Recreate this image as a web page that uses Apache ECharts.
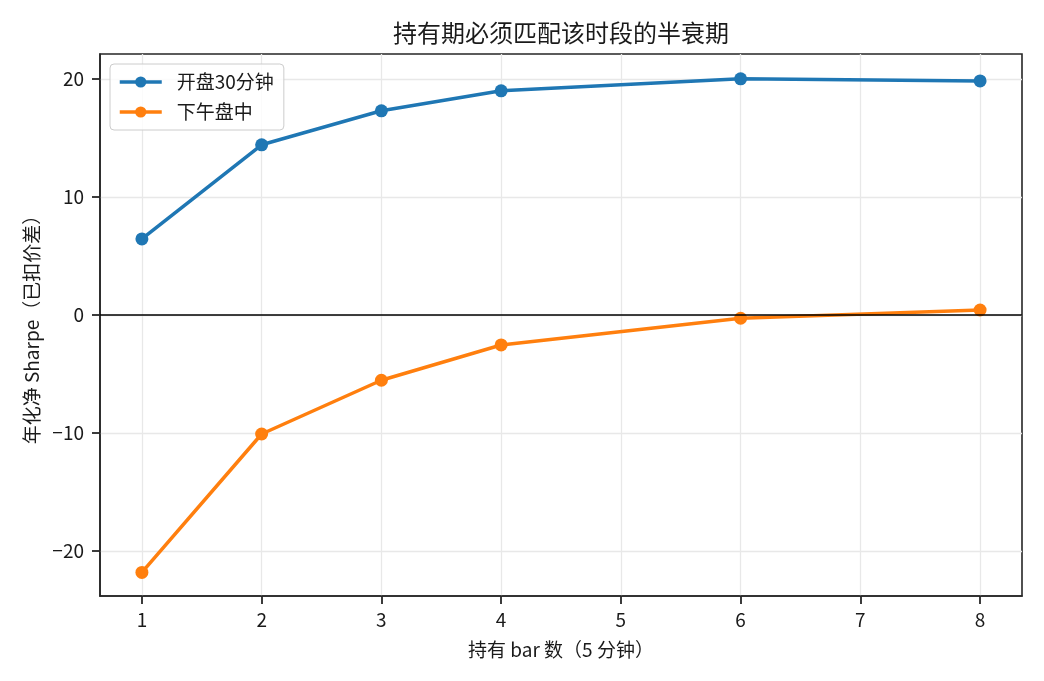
<!DOCTYPE html>
<html>
    <head>
        <meta charset="UTF-8">
        <title>持有期必须匹配该时段的半衰期</title>
        <style type="text/css">
            body,html{ margin: 0; width: 100vw; height: 100vh; overflow: hidden; background: #fff;}
            .chart-box{ width: 1044px; height: 681px;}
        </style>
    </head>
    <body>
        <div class="chart-box" id="chart"></div>

        <script src="https://cdn.jsdelivr.net/npm/echarts@6.0.0/dist/echarts.min.js" type="text/javascript" charset="utf-8"></script>
        <script type="text/javascript">
            // 持有 bar 数
            var holdBars = [1, 2, 3, 4, 6, 8];
            // 两个时段的年化净 Sharpe
            var openSharpe = [6.44, 14.41, 17.29, 18.98, 20.0, 19.82];
            var midSharpe = [-21.8, -10.08, -5.53, -2.54, -0.28, 0.42];
            var seriesNames = ['开盘30分钟', '下午盘中'];
            // 刻度
            var xTicks = [1, 2, 3, 4, 5, 6, 7, 8];
            var yTicks = [-20, -10, 0, 10, 20];

            var font = '"Noto Sans CJK SC", "Noto Sans", sans-serif';
            var textColor = '#1a1a1a';
            var spineColor = '#262626';

            function pairs(xs, ys) {
                return xs.map(function (x, i) { return [x, ys[i]]; });
            }

            var myChart = echarts.init(document.getElementById('chart'), null, {renderer: 'canvas'});

            var option = {
                animation: false,
                backgroundColor: '#fff',
                color: ['#1f77b4', '#ff7f0e'],
                title: {
                    text: '持有期必须匹配该时段的半衰期',
                    left: 393,
                    top: 21,
                    padding: 0,
                    textStyle: { fontFamily: font, fontSize: 24, fontWeight: 'normal', color: textColor }
                },
                legend: {
                    data: seriesNames,
                    orient: 'vertical',
                    left: 110,
                    top: 64,
                    padding: [8, 10, 8, 8],
                    itemGap: 10,
                    itemWidth: 42,
                    itemHeight: 14,
                    lineStyle: { width: 3.5 },
                    borderColor: '#cccccc',
                    borderWidth: 1,
                    borderRadius: 4,
                    backgroundColor: 'rgba(255,255,255,0.8)',
                    textStyle: { fontFamily: font, fontSize: 19, color: textColor, lineHeight: 20, padding: [0, 0, 0, 10] }
                },
                grid: {
                    left: 100,
                    right: 22,
                    top: 54,
                    bottom: 85,
                    show: true,
                    borderColor: spineColor,
                    borderWidth: 1.6,
                    containLabel: false
                },
                xAxis: {
                    type: 'value',
                    min: 0.65,
                    max: 8.35,
                    name: '持有 bar 数（5 分钟）',
                    nameLocation: 'middle',
                    nameGap: 44,
                    nameTextStyle: { fontFamily: font, fontSize: 19, color: textColor },
                    axisLine: { show: true, onZero: false, lineStyle: { color: spineColor, width: 1.6 } },
                    axisTick: { show: true, customValues: xTicks, length: 8, lineStyle: { color: spineColor, width: 1.8 } },
                    axisLabel: { customValues: xTicks, margin: 14, fontFamily: font, fontSize: 19, color: textColor },
                    splitLine: { show: true, lineStyle: { color: '#e8e8e8', width: 1.3 } }
                },
                yAxis: {
                    type: 'value',
                    min: -23.8,
                    max: 22.1,
                    name: '年化净 Sharpe（已扣价差）',
                    nameLocation: 'middle',
                    nameGap: 57,
                    nameTextStyle: { fontFamily: font, fontSize: 19, color: textColor },
                    axisLine: { show: true, onZero: false, lineStyle: { color: spineColor, width: 1.6 } },
                    axisTick: { show: true, customValues: yTicks, length: 8, lineStyle: { color: spineColor, width: 1.8 } },
                    axisLabel: {
                        customValues: yTicks, margin: 16, fontFamily: font, fontSize: 19, color: textColor,
                        formatter: function (v) { return v < 0 ? '\u2212' + Math.abs(v) : String(v); }
                    },
                    splitLine: { show: true, lineStyle: { color: '#e8e8e8', width: 1.3 } }
                },
                series: [{
                    name: seriesNames[0],
                    type: 'line',
                    z: 2,
                    data: pairs(holdBars, openSharpe),
                    symbol: 'circle',
                    symbolSize: 13,
                    lineStyle: { width: 3.5 },
                    itemStyle: { color: '#1f77b4' },
                    markLine: {
                        silent: true,
                        symbol: 'none',
                        label: { show: false },
                        lineStyle: { color: '#000', width: 1.5, type: 'solid' },
                        data: [{ yAxis: 0 }]
                    }
                }, {
                    name: seriesNames[1],
                    type: 'line',
                    z: 3,
                    data: pairs(holdBars, midSharpe),
                    symbol: 'circle',
                    symbolSize: 13,
                    lineStyle: { width: 3.5 },
                    itemStyle: { color: '#ff7f0e' }
                }]
            };

            myChart.setOption(option);
        </script>
    </body>
</html>
